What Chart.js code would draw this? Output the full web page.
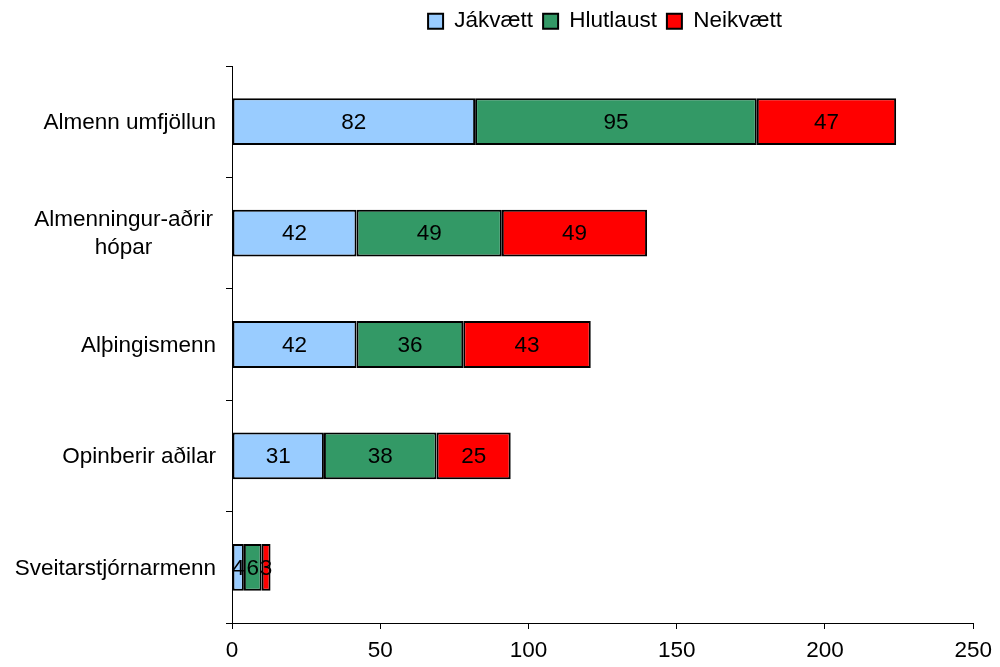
<!DOCTYPE html>
<html>
<head>
<meta charset="utf-8">
<script src="https://cdn.jsdelivr.net/npm/chart.js@4/dist/chart.umd.min.js"></script>
<style>
  html, body { margin: 0; padding: 0; background: #fff; }
  #wrap { width: 1000px; height: 667px; }
</style>
</head>
<body>
<div id="wrap"><canvas id="myChart"></canvas></div>
<script>
const categories = [
  ['Almenn umfjöllun'],
  ['Almenningur-aðrir', 'hópar'],
  ['Alþingismenn'],
  ['Opinberir aðilar'],
  ['Sveitarstjórnarmenn'],
];

const jakvaett = [82, 42, 42, 31, 4];
const hlutlaust = [95, 49, 36, 38, 6];
const neikvaett = [47, 49, 43, 25, 3];

const xTicks = [0, 50, 100, 150, 200, 250];

const FONT = 'Arial, "Liberation Sans", sans-serif';
const FS = 22.5;

// legend takes the top strip, centred over the plot area
const legendSpace = {
  id: 'legendSpace',
  beforeInit(chart) {
    const fit = chart.legend.fit;
    chart.legend.fit = function () {
      fit.bind(chart.legend)();
      this.height = 66;
    };
  },
  beforeDraw(chart) {
    chart.legend.left = 210;
    chart.legend.right = 1000;
  }
};

// value labels in the middle of each bar piece
const barValues = {
  id: 'barValues',
  afterDatasetsDraw(chart) {
    const ctx = chart.ctx;
    ctx.save();
    ctx.font = FS + 'px ' + FONT;
    ctx.fillStyle = '#000';
    ctx.textAlign = 'center';
    ctx.textBaseline = 'middle';
    chart.data.datasets.forEach((ds, i) => {
      chart.getDatasetMeta(i).data.forEach((bar, j) => {
        const p = bar.getProps(['x', 'y', 'base'], true);
        ctx.fillText(String(ds.data[j]), (p.x + p.base) / 2, p.y + 1);
      });
    });
    ctx.restore();
  }
};

// category labels, lines centred on each other, right edge near the axis
const catLabels = {
  id: 'catLabels',
  afterDraw(chart) {
    const ctx = chart.ctx;
    const y = chart.scales.y;
    ctx.save();
    ctx.font = FS + 'px ' + FONT;
    ctx.fillStyle = '#000';
    ctx.textBaseline = 'middle';
    ctx.textAlign = 'center';
    const right = y.right - 16;
    categories.forEach((lines, i) => {
      const cy = y.getPixelForValue(i);
      const w = Math.max(...lines.map(l => ctx.measureText(l).width));
      const cx = (lines.length > 1 ? right - 3 : right) - w / 2;
      lines.forEach((l, k) => {
        ctx.fillText(l, cx, cy + 1 + (k - (lines.length - 1) / 2) * 28);
      });
    });
    ctx.restore();
  }
};

const data = {
  labels: categories.map(c => c.join(' ')),
  datasets: [
    { label: 'Jákvætt', data: jakvaett, backgroundColor: '#99CCFF' },
    { label: 'Hlutlaust', data: hlutlaust, backgroundColor: '#339966' },
    { label: 'Neikvætt', data: neikvaett, backgroundColor: '#FF0000' },
  ].map(d => Object.assign(d, {
    borderColor: '#000',
    borderWidth: 2,
    borderSkipped: false,
    barPercentage: 0.42,
    categoryPercentage: 1,
  }))
};

const config = {
  type: 'bar',
  data: data,
  options: {
    indexAxis: 'y',
    responsive: true,
    maintainAspectRatio: false,
    animation: false,
    layout: { padding: { left: 0, right: 25, top: 0, bottom: 0 } },
    plugins: {
      legend: {
        position: 'top',
        labels: {
          font: { family: FONT, size: FS },
          color: '#000',
          boxWidth: 15,
          boxHeight: 15,
          padding: 10,
          generateLabels(chart) {
            return chart.data.datasets.map((ds, i) => ({
              text: ds.label,
              fillStyle: ds.backgroundColor,
              strokeStyle: '#000',
              lineWidth: 2,
              datasetIndex: i,
              hidden: false,
            }));
          }
        }
      },
      tooltip: { enabled: false }
    },
    scales: {
      x: {
        stacked: true,
        min: 0,
        max: 250,
        afterBuildTicks(scale) {
          scale.ticks = xTicks.map(v => ({ value: v }));
        },
        afterFit(scale) { scale.height = 44; },
        border: { color: '#000', width: 1 },
        grid: { drawOnChartArea: false, color: '#000', tickLength: 6, tickWidth: 1 },
        ticks: { font: { family: FONT, size: FS }, color: '#000', padding: 8, maxRotation: 0 }
      },
      y: {
        stacked: true,
        afterFit(scale) { scale.width = 232; },
        border: { color: '#000', width: 1 },
        grid: { drawOnChartArea: false, offset: true, color: '#000', tickLength: 6, tickWidth: 1 },
        ticks: { display: false }
      }
    }
  },
  plugins: [legendSpace, barValues, catLabels]
};

const myChart = new Chart(document.getElementById('myChart'), config);
</script>
</body>
</html>
